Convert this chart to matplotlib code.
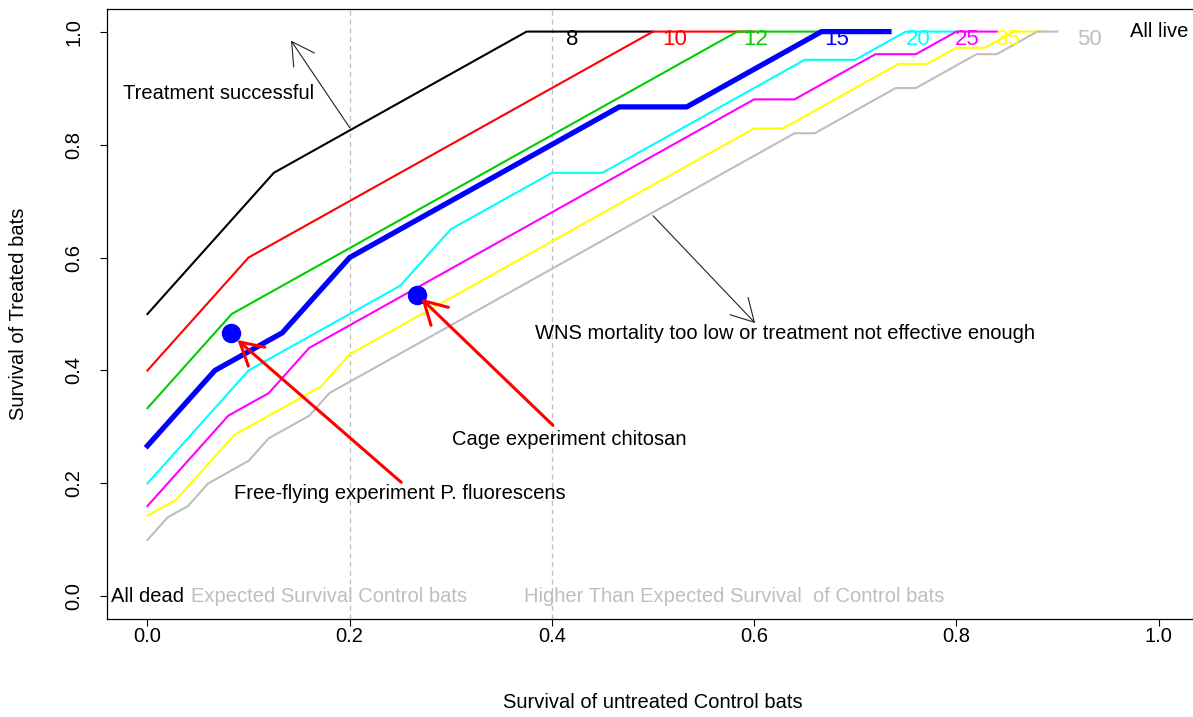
import numpy as np
import matplotlib
matplotlib.use("Agg")
import matplotlib.pyplot as plt

plt.rcParams['font.family'] = ['Liberation Sans', 'DejaVu Sans']

# group size (bats per group) and colour of each threshold curve
group_sizes = [8, 10, 12, 15, 20, 25, 35, 50]
curve_colors = ["black", "#FF0000", "#00CD00", "#0000FF", "#00FFFF", "#FF00FF", "#FFFF00", "#BEBEBE"]

# treated survivors needed for each number of surviving control bats (0, 1, 2, ...)
need_8 = [4, 6, 7, 8, 8]
need_10 = [4, 6, 7, 8, 9, 10, 10]
need_12 = [4, 6, 7, 8, 9, 10, 11, 12, 12]
need_15 = [4, 6, 7, 9, 10, 11, 12, 13, 13, 14, 15, 15]
need_20 = [4, 6, 8, 9, 10, 11, 13, 14, 15, 15, 16, 17, 18, 19, 19, 20, 20]
need_25 = [4, 6, 8, 9, 11, 12, 13, 14, 15, 16, 17, 18, 19, 20, 21, 22, 22, 23, 24, 24, 25, 25]
need_35 = [5, 6, 8, 10, 11, 12, 13, 15, 16, 17, 18, 19, 20, 21, 22, 23, 24, 25, 26, 27, 28, 29,
           29, 30, 31, 32, 33, 33, 34, 34, 35, 35]
need_50 = [5, 7, 8, 10, 11, 12, 14, 15, 16, 18, 19, 20, 21, 22, 23, 24, 25, 26, 27, 28, 29, 30,
           31, 32, 33, 34, 35, 36, 37, 38, 39, 40, 41, 41, 42, 43, 44, 45, 45, 46, 47, 48, 48,
           49, 50, 50]
needed = [need_8, need_10, need_12, need_15, need_20, need_25, need_35, need_50]
curve_widths = [1.5, 1.5, 1.5, 3.8, 1.5, 1.5, 1.5, 1.5]

# curve labels along the top
label_x = [0.42, 0.521, 0.602, 0.682, 0.762, 0.811, 0.851, 0.932]

# observed experiments (control survival, treated survival)
exp_control = [0.083, 0.267]
exp_treated = [0.467, 0.533]

fig = plt.figure(figsize=(11.93, 7.17), dpi=100)
ax = fig.add_axes([107/1193, 1 - 619/717, (1199 - 107)/1193, (619 - 9)/717])
ax.set_xlim(-0.04, 1.04)
ax.set_ylim(-0.04, 1.04)

for xv in [0.2, 0.4]:
    ax.axvline(xv, color="#BEBEBE", ls=(0, (4, 3)), lw=0.9, zorder=1)

for n, counts, col, lw in zip(group_sizes, needed, curve_colors, curve_widths):
    counts = np.array(counts)
    xs = np.arange(len(counts)) / n
    ax.plot(xs, counts / n, color=col, lw=lw, solid_joinstyle="round", zorder=2)

for n, lx, col in zip(group_sizes, label_x, curve_colors):
    ax.text(lx, 0.986, str(n), color=col, fontsize=16, ha="center", va="center", zorder=5)

ax.plot(exp_control, exp_treated, "o", color="#0000FF", ms=13, zorder=4)

thin = dict(arrowstyle="->,head_length=0.8,head_width=0.45", color="#222222", lw=0.8,
            shrinkA=0, shrinkB=0, mutation_scale=20)
red = dict(arrowstyle="->,head_length=0.8,head_width=0.45", color="#FF0000", lw=2.2,
           shrinkA=0, shrinkB=0, mutation_scale=20)
ax.annotate("", xy=(0.142, 0.984), xytext=(0.2, 0.83), arrowprops=thin, zorder=3)
ax.annotate("", xy=(0.601, 0.484), xytext=(0.5, 0.674), arrowprops=thin, zorder=3)
ax.annotate("", xy=(0.271, 0.527), xytext=(0.401, 0.303), arrowprops=red, zorder=5)
ax.annotate("", xy=(0.089, 0.454), xytext=(0.251, 0.202), arrowprops=red, zorder=5)

fs = 14.5
ax.text(0.070, 0.890, "Treatment successful", fontsize=fs, ha="center", va="center")
ax.text(0.631, 0.465, "WNS mortality too low or treatment not effective enough",
        fontsize=fs, ha="center", va="center")
ax.text(0.417, 0.277, "Cage experiment chitosan", fontsize=fs, ha="center", va="center")
ax.text(0.250, 0.183, "Free-flying experiment P. fluorescens", fontsize=fs, ha="center", va="center")
ax.text(1.001, 1.0, "All live", fontsize=fs, ha="center", va="center")
ax.text(0.0, 0.0, "All dead", fontsize=fs, ha="center", va="center", zorder=6)
ax.text(0.18, 0.0, "Expected Survival Control bats", fontsize=fs, color="#BEBEBE",
        ha="center", va="center")
ax.text(0.58, 0.0, "Higher Than Expected Survival  of Control bats", fontsize=fs,
        color="#BEBEBE", ha="center", va="center")

ticks = [0.0, 0.2, 0.4, 0.6, 0.8, 1.0]
ax.set_xticks(ticks)
ax.set_yticks(ticks)
ax.set_xticklabels([f"{t:.1f}" for t in ticks])
ax.set_yticklabels([f"{t:.1f}" for t in ticks])
ax.tick_params(direction="out", length=5, width=0.8, labelsize=fs)
ax.tick_params(axis="x", pad=0.5)
ax.tick_params(axis="y", labelrotation=90, pad=12)
for lbl in ax.get_yticklabels():
    lbl.set_va("center")

ax.set_xlabel("Survival of untreated Control bats", fontsize=fs, labelpad=34)
ax.set_ylabel("Survival of Treated bats", fontsize=fs, labelpad=26)
for s in ax.spines.values():
    s.set_linewidth(0.9)

fig.savefig("out.png", dpi=100)
